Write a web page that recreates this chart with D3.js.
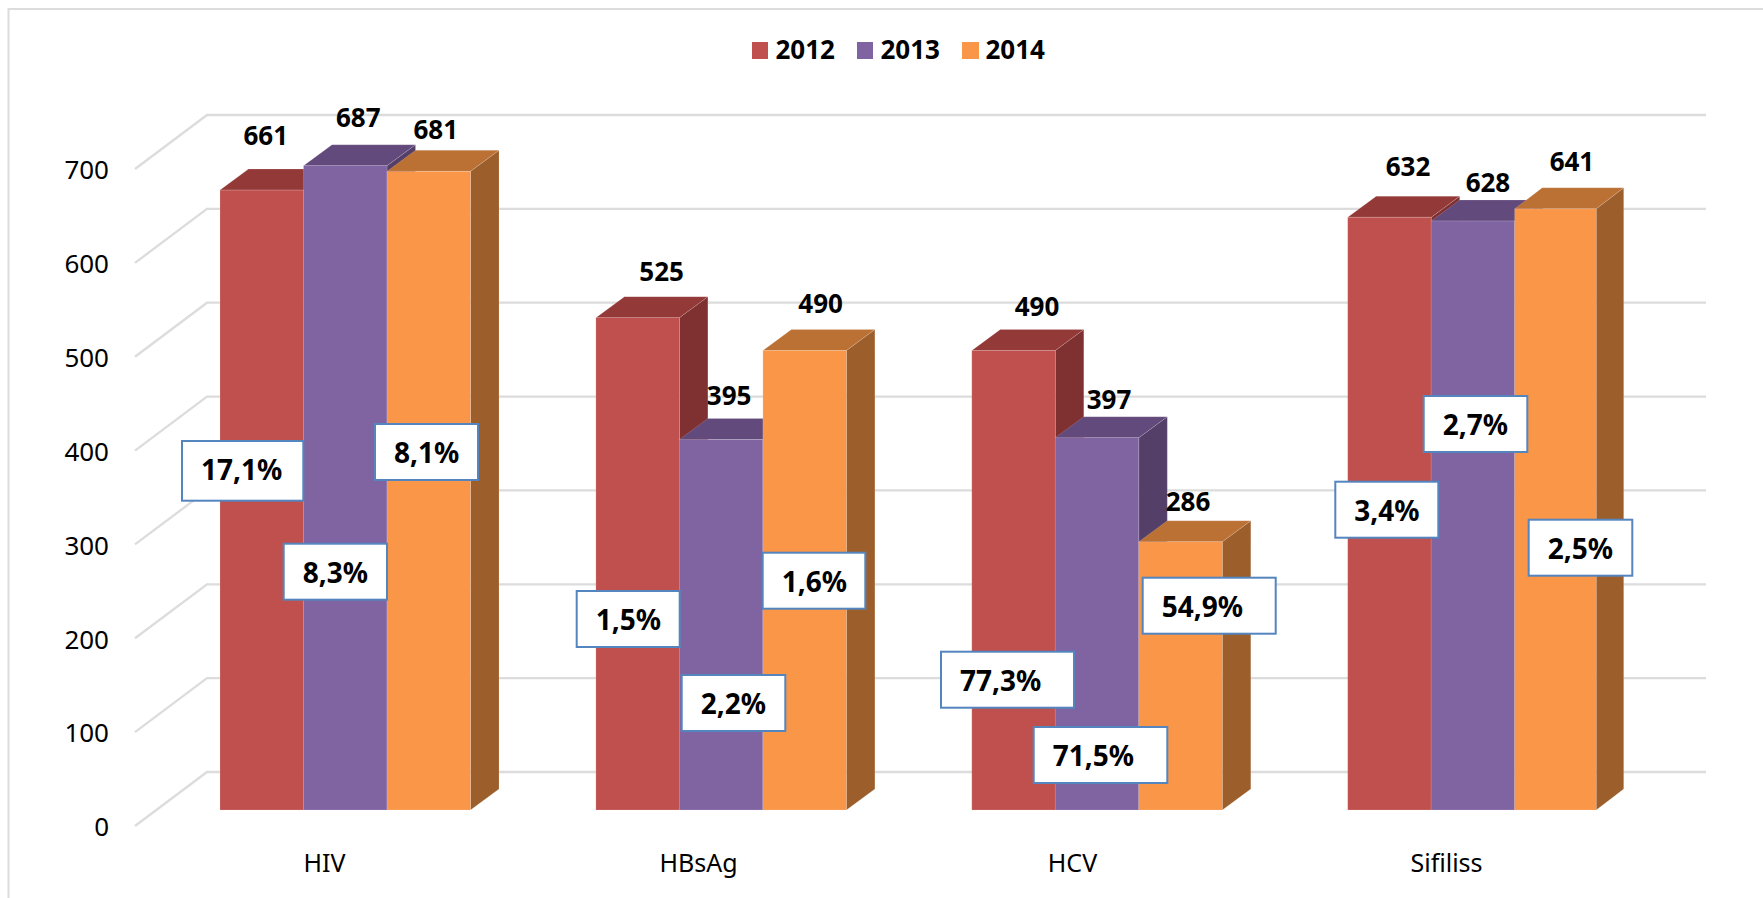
<!DOCTYPE html>
<html>
<head>
<meta charset="utf-8">
<script src="https://cdn.jsdelivr.net/npm/d3@7/dist/d3.min.js"></script>
<style>
html,body{margin:0;padding:0;background:#fff;overflow:hidden}
svg{display:block}
text{font-family:"Noto Sans",sans-serif;fill:#000}
</style>
</head>
<body>
<svg id="c" width="1763" height="898"></svg>
<script>
// ---- data ----
const categories = ["HIV", "HBsAg", "HCV", "Sifiliss"];
const years = ["2012", "2013", "2014"];
const values2012 = [661, 525, 490, 632];
const values2013 = [687, 395, 397, 628];
const values2014 = [681, 490, 286, 641];
const pct2012 = ["17,1%", "1,5%", "77,3%", "3,4%"];
const pct2013 = ["8,3%", "2,2%", "71,5%", "2,7%"];
const pct2014 = ["8,1%", "1,6%", "54,9%", "2,5%"];
const yTicks = [0, 100, 200, 300, 400, 500, 600, 700];

// ---- styles ----
const faceColors = ["#C0504D", "#8064A2", "#F99648"];
const topColors = ["#933A38", "#634A7C", "#BB7134"];
const sideColors = ["#7E3130", "#533F68", "#9C5E2B"];
const gridColor = "#DCDCDC";
const boxStroke = "#5585BE";

// ---- layout ----
const depthX = 28.5, depthY = 21;      // bar depth
const wallX = 72, wallY = 54;          // floor depth of the chart walls
// value-label offsets from each bar's top centre: [dx, height above the top]
const valueOffsets = [
  [[4,45],[24,37],[23.5,34],[18.6,41]],
  [[13,39],[8,35],[12,29],[15,29]],
  [[7,32.5],[16,37],[7.5,31],[15.5,38]]
];
// percent-box placement from each bar's base-left: [dx, height above base, width]
const boxOffsets = [
  [[-39,370,123.3],[-20.2,220,105],[-31.8,159.3,135],[-13.4,329.3,105]],
  [[-20.8,267.3,105.3],[1.3,136,105.6],[-22.6,84,135.6],[-8.5,415,105.6]],
  [[-13,387,105],[-1.2,258.3,104.6],[2.9,233.3,135],[13,291.3,105.6]]
];
const boxHeights = [[61.7,58,58,58],[58,58,58,58],[58,58,58,58]];

const series = [values2012, values2013, values2014];
const pcts = [pct2012, pct2013, pct2014];

const svg = d3.select("#c");

// ---- scales ----
const x0 = d3.scaleBand().domain(categories).range([220, 1598.2]).paddingInner(0.3336).paddingOuter(0).align(0);
const x1 = d3.scaleBand().domain(d3.range(3)).range([0, x0.bandwidth()]);
const yBar = d3.scaleLinear().domain([0, 700]).range([810, 153.5]);
const yAxisS = d3.scaleLinear().domain([0, 700]).range([826, 169]);
const xLabel = d3.scalePoint().domain(categories).range([324, 1446]);

// ---- outer frame ----
svg.append("path").attr("d", "M8.5,898V9H1763").attr("fill", "none").attr("stroke", gridColor).attr("stroke-width", 2);

// ---- grid: side wall and back wall ----
const line = d3.line();
svg.append("g").selectAll("path").data(yTicks).join("path")
  .attr("d", t => line([[135, yAxisS(t)], [135 + wallX, yAxisS(t) - wallY], [1706, yAxisS(t) - wallY]]))
  .attr("fill", "none").attr("stroke", gridColor).attr("stroke-width", 2.3);

// ---- y axis ----
const gy = svg.append("g").attr("transform", "translate(135,1.5)")
  .call(d3.axisLeft(yAxisS).tickValues(yTicks).tickSize(0).tickPadding(26).tickFormat(d3.format("d")));
gy.select(".domain").remove();
gy.selectAll("text").style("font-size", "26px").style("font-family", '"Noto Sans",sans-serif');

// ---- x axis ----
const gx = svg.append("g").attr("transform", "translate(0,872)")
  .call(d3.axisBottom(xLabel).tickSize(0).tickPadding(0));
gx.select(".domain").remove();
gx.selectAll("text").attr("y", 0).attr("dy", 0).style("font-size", "25px").style("font-family", '"Noto Sans",sans-serif');

// ---- 3D bars ----
categories.forEach((cat, c) => {
  const g = svg.append("g");
  years.forEach((yr, s) => {
    const v = series[s][c];
    const narrow = (c === 3 && s === 2) ? 2 : 0;   // the last bar is drawn a little narrower in the reference
    const l = x0(cat) + x1(s), r = l + x1.bandwidth() - narrow, t = yBar(v), b = yBar(0);
    const dX = depthX - (narrow ? 1 : 0);
    const edge = "rgba(255,255,255,0.18)";
    g.append("path").attr("d", line([[r, t], [r + dX, t - depthY], [r + dX, b - depthY], [r, b]]) + "Z")
      .attr("fill", sideColors[s]).attr("stroke", edge).attr("stroke-width", 0.8);
    g.append("path").attr("d", line([[l, t], [l + dX, t - depthY], [r + dX, t - depthY], [r, t]]) + "Z")
      .attr("fill", topColors[s]).attr("stroke", edge).attr("stroke-width", 0.8);
    g.append("rect").attr("x", l).attr("y", t).attr("width", r - l).attr("height", b - t)
      .attr("fill", faceColors[s]).attr("stroke", edge).attr("stroke-width", 0.8);
  });
});

// ---- percent boxes ----
categories.forEach((cat, c) => {
  years.forEach((yr, s) => {
    const [dx, up, w] = boxOffsets[s][c];
    const h = boxHeights[s][c];
    const bx = x0(cat) + x1(s) + dx, by = yBar(0) - up;
    const g = svg.append("g").attr("transform", `translate(${bx},${by})`);
    g.append("rect").attr("x", 1).attr("y", 1).attr("width", w - 2).attr("height", h - 2)
      .attr("fill", "#fff").attr("stroke", boxStroke).attr("stroke-width", 2);
    g.append("text").attr("x", 20).attr("y", 40).attr("font-size", 28).attr("font-weight", 700).text(pcts[s][c]);
  });
});

// ---- value labels ----
categories.forEach((cat, c) => {
  years.forEach((yr, s) => {
    const v = series[s][c];
    const [dx, up] = valueOffsets[s][c];
    svg.append("text")
      .attr("x", x0(cat) + x1(s) + x1.bandwidth() / 2 + dx)
      .attr("y", yBar(v) - up)
      .attr("text-anchor", "middle").attr("font-size", 26).attr("font-weight", 700).text(v);
  });
});

// ---- legend ----
const legendX = d3.scalePoint().domain(years).range([752, 962]);
const lg = svg.append("g").selectAll("g").data(years).join("g")
  .attr("transform", d => `translate(${legendX(d)},42)`);
lg.append("rect").attr("width", (d, i) => i === 2 ? 17 : 16).attr("height", 17).attr("fill", (d, i) => faceColors[i]);
lg.append("text").attr("x", 23.5).attr("y", 17).attr("font-size", 26).attr("font-weight", 700).text(d => d);
</script>
</body>
</html>
